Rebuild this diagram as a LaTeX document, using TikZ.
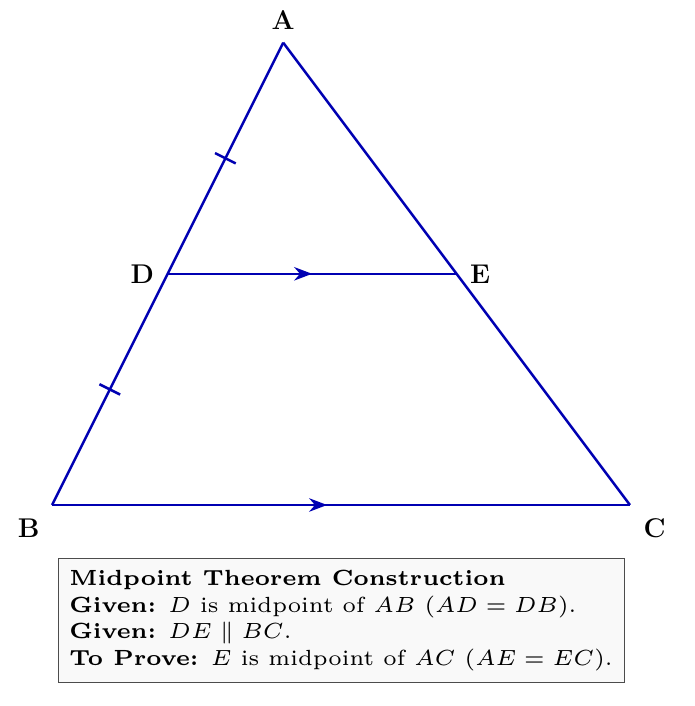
\documentclass[tikz,border=0pt]{standalone}
\usepackage{amsmath}
\usetikzlibrary{positioning,calc,arrows.meta,decorations.markings}

\begin{document}
\begin{tikzpicture}[
        side/.style={blue!70!black, line width=1.1pt},
        ptlabel/.style={font=\large\bfseries},
        midarrow/.style={postaction={decorate}, decoration={markings,
            mark=at position #1 with {\arrow{Stealth}}}},
        tickmark/.style={blue!70!black, line width=1.1pt},
        givenbox/.style={draw=black!70, fill=gray!5, align=left, inner sep=3.1pt,
            scale=1.62, transform shape, font=\fontsize{6}{7.3}\selectfont}
    ]
    \useasboundingbox (-0.81,-3.13) rectangle (10.0,7.864);

    \coordinate (B) at (0,0);
    \coordinate (C) at (9,0);
    \coordinate (A) at (3.6,7.2);
    \coordinate (D) at ($(A)!0.5!(B)$);
    \coordinate (E) at ($(A)!0.5!(C)$);
    \coordinate (AD) at ($(A)!0.5!(D)$);
    \coordinate (DB) at ($(D)!0.5!(B)$);
    \coordinate (BC) at ($(B)!0.5!(C)$);

    \draw[side] (A) -- (B);
    \draw[side] (A) -- (C);
    \draw[side, midarrow=0.476] (B) -- (C);
    \draw[side, midarrow=0.5] (D) -- (E);

    \draw[tickmark] ($(AD)!0.18cm!90:(D)$) -- ($(AD)!0.18cm!-90:(D)$);
    \draw[tickmark] ($(DB)!0.18cm!90:(B)$) -- ($(DB)!0.18cm!-90:(B)$);

    \node[ptlabel, above=2.5pt of A] (lA) {A};
    \node[ptlabel, below left=2.5pt and 2pt of B] (lB) {B};
    \node[ptlabel, below right=2.5pt and 2.5pt of C] (lC) {C};
    \node[ptlabel, left=2.5pt of D] (lD) {D};
    \node[ptlabel, right=2.5pt of E] (lE) {E};

    \node[givenbox, below=0.825cm of BC] (given) {%
        \textbf{Midpoint Theorem Construction}\\
        \textbf{Given:} $D$ is midpoint of $AB$ ($AD = DB$).\\
        \textbf{Given:} $DE \parallel BC$.\\
        \textbf{To Prove:} $E$ is midpoint of $AC$ ($AE = EC$).};
\end{tikzpicture}
\end{document}
